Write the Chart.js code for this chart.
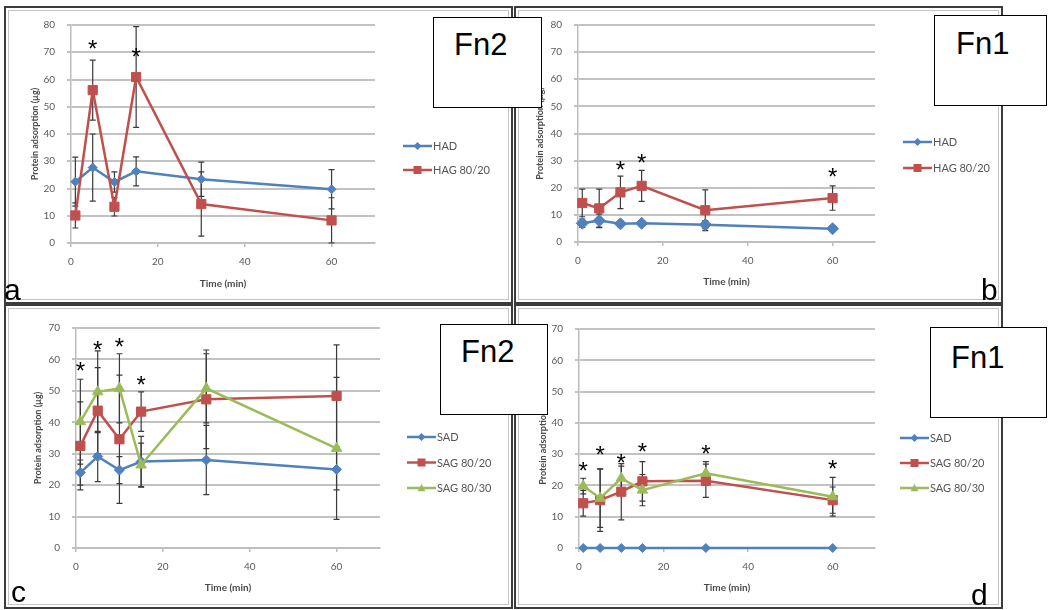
<!DOCTYPE html>
<html lang="en">
<head>
<meta charset="UTF-8">
<title>Protein adsorption of Fn2 / Fn1 on HA and SA surfaces</title>
<script src="https://cdn.jsdelivr.net/npm/chart.js"></script>
<style>
  body { margin: 0; background: #fff; }
  #page { position: relative; width: 1050px; height: 610px; overflow: hidden; background: #fff;
          font-family: "Liberation Sans", Arial, sans-serif; }
  .frame { position: absolute; box-sizing: border-box; border: 2px solid #3c3c3c;
           box-shadow: inset 0 0 0 2px #fff, inset 0 0 0 3px #c4c4c4; }
  canvas { position: absolute; }
  .tag { position: absolute; box-sizing: border-box; border: 1.5px solid #000; background: #fff;
         font-size: 31px; line-height: 1; color: #000; z-index: 2; }
  .tag span { position: absolute; }
  .letter { position: absolute; font-size: 30px; line-height: 1; color: #000; z-index: 2; }
</style>
</head>
<body>
<div id="page">
  <div class="frame" style="left:4px;top:6px;width:509px;height:298px"></div>
  <div class="frame" style="left:514px;top:6px;width:489px;height:298px"></div>
  <div class="frame" style="left:4px;top:304px;width:509px;height:305px"></div>
  <div class="frame" style="left:514px;top:304px;width:489px;height:305px"></div>

  <canvas id="chartA" width="507" height="296" style="left:5px;top:7px"></canvas>
  <canvas id="chartB" width="487" height="296" style="left:515px;top:7px"></canvas>
  <canvas id="chartC" width="507" height="298" style="left:5px;top:310px"></canvas>
  <canvas id="chartD" width="487" height="298" style="left:515px;top:310px"></canvas>

  <div class="tag" style="left:433px;top:17px;width:109px;height:91px"><span style="left:20px;top:11px">Fn2</span></div>
  <div class="tag" style="left:934px;top:15px;width:113px;height:91px"><span style="left:21px;top:12px">Fn1</span></div>
  <div class="tag" style="left:440px;top:324px;width:108px;height:91px"><span style="left:20px;top:11px">Fn2</span></div>
  <div class="tag" style="left:930px;top:327px;width:117px;height:91px"><span style="left:20px;top:14px">Fn1</span></div>

  <div class="letter" style="left:4px;top:275px">a</div>
  <div class="letter" style="left:981px;top:275px">b</div>
  <div class="letter" style="left:11px;top:577px">c</div>
  <div class="letter" style="left:971px;top:580px">d</div>
</div>

<script>
  // sampling times (min), shared by all four panels
  const times = [1, 5, 10, 15, 30, 60];

  // a - Fn2 on HA surfaces
  const aHAD = [22.5, 27.7, 22.4, 26.3, 23.4, 19.7];
  const aHADErr = [9.0, 12.3, 3.7, 5.3, 6.3, 7.2];
  const aHAG = [10.1, 56.1, 13.3, 60.9, 14.3, 8.3];
  const aHAGErr = [4.6, 11.0, 3.4, 18.5, 11.8, 8.3];
  const aStarX = [5, 15];
  const aStarY = [73.5, 70.6];

  // b - Fn1 on HA surfaces
  const bHAD = [6.9, 7.9, 6.7, 6.9, 6.4, 4.9];
  const bHADErr = [1.5, 2.4, 1.0, 1.0, 1.5, 1.0];
  const bHAG = [14.4, 12.4, 18.3, 20.7, 11.7, 16.2];
  const bHAGErr = [5.1, 7.1, 6.0, 5.7, 7.5, 4.5];
  const bStarX = [10, 15, 60];
  const bStarY = [28.9, 31.4, 26.1];

  // c - Fn2 on SA surfaces
  const cSAD = [24.0, 29.1, 24.8, 27.5, 28.0, 25.0];
  const cSADErr = [4.0, 8.0, 4.3, 8.0, 11.0, 6.5];
  const cSAG20 = [32.5, 43.7, 34.6, 43.4, 47.3, 48.4];
  const cSAG20Err = [14.0, 13.7, 20.4, 6.3, 15.7, 16.2];
  const cSAG30 = [40.2, 49.7, 50.8, 26.4, 50.8, 31.7];
  const cSAG30Err = [13.5, 13.0, 11.0, 7.0, 11.0, 22.6];
  const cStarX = [1, 5, 10, 15];
  const cStarY = [58.2, 64.9, 65.9, 53.8];

  // d - Fn1 on SA surfaces
  const dSAD = [0, 0, 0, 0, 0, 0];
  const dSADErr = [0, 0, 0, 0, 0, 0];
  const dSAG20 = [14.3, 15.3, 18.0, 21.3, 21.5, 15.3];
  const dSAG20Err = [4.1, 10.0, 9.0, 6.3, 5.3, 4.2];
  const dSAG30 = [19.8, 15.9, 22.3, 18.5, 23.9, 16.4];
  const dSAG30Err = [2.5, 9.3, 3.9, 5.0, 3.7, 6.2];
  const dStarX = [1, 5, 10, 15, 30, 60];
  const dStarY = [26.5, 31.5, 29.2, 32.6, 32.1, 27.3];

  const BLUE = '#4f81bd';
  const RED = '#c0504d';
  const GREEN = '#9bbb59';
  const chartFont = 'Lato, "Open Sans", sans-serif';

  function series(label, values, errors, color, style, radius, order) {
    return {
      label: label,
      data: times.map((t, i) => ({ x: t, y: values[i] })),
      errors: errors,
      borderColor: color,
      backgroundColor: color,
      borderWidth: 2.5,
      pointStyle: style,
      pointRadius: radius,
      pointBorderWidth: 1,
      pointBackgroundColor: color,
      order: order,
      clip: false
    };
  }

  // vertical error bars with small caps, drawn under the lines
  const errorBars = {
    id: 'errorBars',
    beforeDatasetsDraw(chart) {
      const { ctx, scales: { x, y } } = chart;
      ctx.save();
      ctx.strokeStyle = '#3a3a3a';
      ctx.lineWidth = 1.2;
      chart.data.datasets.forEach(ds => {
        if (!ds.errors) return;
        ds.data.forEach((p, i) => {
          const e = ds.errors[i];
          if (!e) return;
          const px = x.getPixelForValue(p.x);
          const top = y.getPixelForValue(p.y + e);
          const bot = y.getPixelForValue(Math.max(p.y - e, 0));
          ctx.beginPath();
          ctx.moveTo(px, top); ctx.lineTo(px, bot);
          ctx.moveTo(px - 3, top); ctx.lineTo(px + 3, top);
          ctx.moveTo(px - 3, bot); ctx.lineTo(px + 3, bot);
          ctx.stroke();
        });
      });
      ctx.restore();
    }
  };

  // significance asterisks
  const stars = {
    id: 'stars',
    afterDatasetsDraw(chart, args, opts) {
      if (!opts.x) return;
      const { ctx, scales: { x, y } } = chart;
      ctx.save();
      ctx.fillStyle = '#000';
      ctx.font = '24px "Liberation Sans", Arial, sans-serif';
      ctx.textAlign = 'center';
      ctx.textBaseline = 'alphabetic';
      opts.x.forEach((v, i) => {
        ctx.fillText('*', x.getPixelForValue(v), y.getPixelForValue(opts.y[i]) + 14);
      });
      ctx.restore();
    }
  };

  function drawMarker(ctx, style, cx, cy, r) {
    ctx.beginPath();
    if (style === 'rect') {
      ctx.rect(cx - r, cy - r, 2 * r, 2 * r);
    } else if (style === 'rectRot') {
      ctx.moveTo(cx, cy - r); ctx.lineTo(cx + r, cy);
      ctx.lineTo(cx, cy + r); ctx.lineTo(cx - r, cy);
      ctx.closePath();
    } else {
      ctx.moveTo(cx, cy - r); ctx.lineTo(cx + r, cy + r * 0.8);
      ctx.lineTo(cx - r, cy + r * 0.8);
      ctx.closePath();
    }
    ctx.fill();
  }

  // Excel style legend to the right of the plot
  const sideLegend = {
    id: 'sideLegend',
    afterDraw(chart, args, opts) {
      const { ctx, chartArea } = chart;
      const x0 = chartArea.right + opts.dx;
      ctx.save();
      ctx.font = '11px ' + chartFont;
      ctx.textBaseline = 'middle';
      ctx.textAlign = 'left';
      chart.data.datasets.forEach((ds, i) => {
        const yy = opts.top + i * opts.gap;
        ctx.strokeStyle = ds.borderColor;
        ctx.fillStyle = ds.borderColor;
        ctx.lineWidth = 2.5;
        ctx.beginPath();
        ctx.moveTo(x0, yy); ctx.lineTo(x0 + 29, yy);
        ctx.stroke();
        drawMarker(ctx, ds.pointStyle, x0 + 14.5, yy, 4);
        ctx.fillStyle = '#555';
        ctx.fillText(ds.label, x0 + 30, yy + 0.5);
      });
      ctx.restore();
    }
  };

  function makeChart(id, datasets, cfg) {
    return new Chart(document.getElementById(id), {
      type: 'line',
      data: { datasets: datasets },
      plugins: [errorBars, stars, sideLegend],
      options: {
        responsive: false,
        animation: false,
        layout: { padding: { left: 0, top: cfg.padT, right: cfg.padR, bottom: cfg.padB } },
        scales: {
          x: {
            type: 'linear',
            min: 0,
            max: 70,
            afterFit(s) { s.height = cfg.xH; },
            ticks: { stepSize: 20, includeBounds: false, padding: 9, color: '#5a5a5a',
                     font: { family: chartFont, size: 10 } },
            grid: { drawOnChartArea: false, tickLength: 4, color: '#bdbdbd', lineWidth: 1.5 },
            border: { color: '#bdbdbd', width: 1.5 },
            title: { display: true, text: 'Time (min)', padding: 0, color: '#4a4a4a',
                     font: { family: chartFont, size: 10, weight: 'bold' } }
          },
          y: {
            min: 0,
            max: cfg.yMax,
            afterFit(s) { s.width = cfg.yW; },
            ticks: { stepSize: 10, padding: 12, color: '#5a5a5a',
                     font: { family: chartFont, size: 10 } },
            grid: { color: '#c2c2c2', lineWidth: 2, tickLength: 4 },
            border: { color: '#bdbdbd', width: 1.5 },
            title: { display: true, text: 'Protein adsorption (µg)', color: '#4a4a4a',
                     padding: { top: cfg.titlePad, bottom: 0 },
                     font: { family: chartFont, size: 9, weight: 'bold' } }
          }
        },
        plugins: {
          legend: { display: false },
          tooltip: { enabled: false },
          stars: { x: cfg.starX, y: cfg.starY },
          sideLegend: cfg.legend
        }
      }
    });
  }

  makeChart('chartA', [
    series('HAD', aHAD, aHADErr, BLUE, 'rectRot', 4.5, 3),
    series('HAG 80/20', aHAG, aHAGErr, RED, 'rect', 6.5, 2)
  ], { yMax: 80, yW: 66, padT: 14, padR: 137, padB: 13, xH: 47, titlePad: 24.6,
       starX: aStarX, starY: aStarY, legend: { dx: 28, top: 139, gap: 24 } });

  makeChart('chartB', [
    series('HAD', bHAD, bHADErr, BLUE, 'rectRot', 6, 3),
    series('HAG 80/20', bHAG, bHAGErr, RED, 'rect', 6.5, 2)
  ], { yMax: 80, yW: 63, padT: 11, padR: 127, padB: 15, xH: 46, titlePad: 19.6,
       starX: bStarX, starY: bStarY, legend: { dx: 28, top: 135, gap: 26 } });

  makeChart('chartC', [
    series('SAD', cSAD, cSADErr, BLUE, 'rectRot', 5, 3),
    series('SAG 80/20', cSAG20, cSAG20Err, RED, 'rect', 6.5, 2),
    series('SAG 80/30', cSAG30, cSAG30Err, GREEN, 'triangle', 6, 1)
  ], { yMax: 70, yW: 71, padT: 18, padR: 132, padB: 14, xH: 46, titlePad: 27.6,
       starX: cStarX, starY: cStarY, legend: { dx: 27, top: 127, gap: 25.5 } });

  makeChart('chartD', [
    series('SAD', dSAD, dSADErr, BLUE, 'rectRot', 4.5, 3),
    series('SAG 80/20', dSAG20, dSAG20Err, RED, 'rect', 6.5, 2),
    series('SAG 80/30', dSAG30, dSAG30Err, GREEN, 'triangle', 6, 1)
  ], { yMax: 70, yW: 64, padT: 19, padR: 127, padB: 14, xH: 46, titlePad: 22.6,
       starX: dStarX, starY: dStarY, legend: { dx: 25, top: 128, gap: 25 } });
</script>
</body>
</html>
